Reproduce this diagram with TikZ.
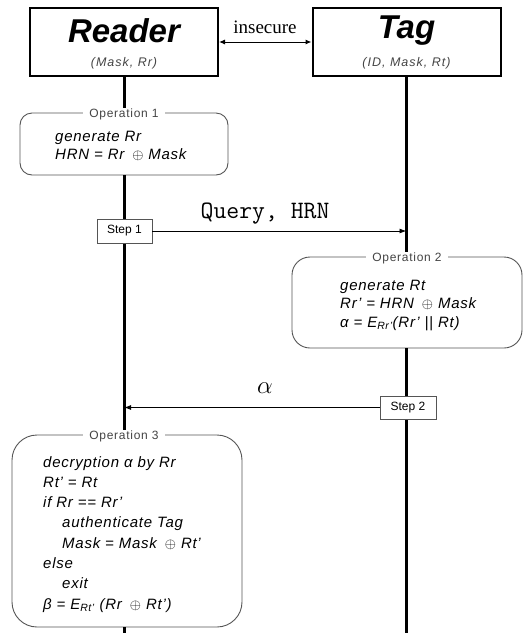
\documentclass[tikz,border=0pt]{standalone}
\usepackage{fontspec}
\setmainfont{Liberation Sans}
\newfontfamily\serifface{Liberation Serif}
\usetikzlibrary{arrows.meta}
\definecolor{framegray}{HTML}{555555}
\definecolor{labelgray}{HTML}{444444}
\tikzset{
  party/.style={draw=black, line width=2pt, minimum width=188pt, minimum height=68pt, inner sep=0pt},
  partyname/.style={font=\fontsize{33}{33}\selectfont\bfseries\itshape, inner sep=0pt},
  partyvars/.style={font=\fontsize{12.5}{13}\selectfont\itshape\addfontfeature{LetterSpace=8}, text=labelgray, inner sep=0pt},
  lifeline/.style={line width=3pt},
  opbox/.style={draw=framegray, line width=0.9pt, inner sep=0pt},
  oplabel/.style={fill=white, text=labelgray, font=\fontsize{12}{12}\selectfont\addfontfeature{LetterSpace=6}, inner xsep=6pt, inner ysep=1pt},
  opline/.style={font=\fontsize{15}{18}\selectfont\itshape\addfontfeature{LetterSpace=5}, inner sep=0pt, anchor=base west},
  stepbox/.style={draw=framegray, fill=white, line width=0.9pt, font=\fontsize{12}{12}\selectfont, inner sep=0pt},
  msg/.style={line width=0.9pt, -{Latex[length=7pt,width=5pt]}},
}
% exclusive-or sign with a little extra room on its left
\newcommand{\xor}{\hspace{0.2em}$\oplus$}
\begin{document}
\begin{tikzpicture}[x=1pt,y=-1pt]
\useasboundingbox (0,0) rectangle (528,633);

% participants
\node[party] (reader) at (124,42) {};
\node[partyname] (readername) at (124,31) {Reader};
\node[partyvars] (readervars) at (124,63) {(Mask, Rr)};
\node[party] (tag) at (406.5,42) {};
\node[partyname] (tagname) at (406.5,31) {Tag};
\node[partyvars] (tagvars) at (406.5,63) {(ID, Mask, Rt)};

% channel between reader and tag
\draw[line width=1pt, {Latex[length=6pt,width=5pt]}-{Latex[length=6pt,width=5pt]}] (reader.east) -- (tag.west);
\node[font=\serifface\fontsize{19}{19}\selectfont, inner sep=0pt] (channel) at (265,27) {insecure};

% operation boxes
\node[opbox, rounded corners=12pt, minimum width=208pt, minimum height=62pt] (op1) at (124,144) {};
\node[opbox, rounded corners=18pt, minimum width=230pt, minimum height=91pt] (op2) at (407,302.5) {};
\node[opbox, rounded corners=25pt, minimum width=230pt, minimum height=192pt] (op3) at (127,531) {};

% lifelines
\coordinate (readerend) at (124,633);
\coordinate (tagend) at (406.5,633);
\draw[lifeline] (reader.south) -- (op1.north);
\draw[lifeline] (op1.south) -- (op1.south |- op3.north);
\draw[lifeline] (op3.south -| readerend) -- (readerend);
\draw[lifeline] (tag.south) -- (tag.south |- op2.north);
\draw[lifeline] (op2.south -| tagend) -- (tagend);

% operation labels, sitting on the top edge of each box
\node[oplabel, yshift=-2pt] (op1label) at (op1.north) {Operation 1};
\node[oplabel, yshift=-2pt] (op2label) at (op2.north) {Operation 2};
\node[oplabel, yshift=-2pt] (op3label) at (op3.north -| readerend) {Operation 3};

% operation 1: reader
\node[opline] (o1a) at (55,141) {generate Rr};
\node[opline] (o1b) at (55,159) {HRN = Rr \xor{} Mask};

% operation 2: tag
\node[opline] (o2a) at (340,290) {generate Rt};
\node[opline] (o2b) at (340,308.5) {Rr’ = HRN \xor{} Mask};
\node[opline] (o2c) at (340,327) {α = E\textsubscript{Rr’}(Rr’ || Rt)};

% operation 3: reader
\node[opline] (o3a) at (43,467) {decryption α by Rr};
\node[opline] (o3b) at (43,487) {Rt’ = Rt};
\node[opline] (o3c) at (43,507) {if Rr == Rr’};
\node[opline] (o3d) at (62,527) {authenticate Tag};
\node[opline] (o3e) at (62,548) {Mask = Mask \xor{} Rt’};
\node[opline] (o3f) at (43,568) {else};
\node[opline] (o3g) at (62,588) {exit};
\node[opline] (o3h) at (43,609) {β = E\textsubscript{Rt’} (Rr \xor{} Rt’)};

% messages
\node[stepbox, minimum width=55pt, minimum height=24pt] (step1) at (124.5,231) {Step 1};
\draw[msg] (step1.east) -- (step1.east -| tagend);
\node[font=\ttfamily\fontsize{25}{25}\selectfont\addfontfeature{LetterSpace=6}, inner sep=0pt] (querylabel) at (265,214) {Query, HRN};

\node[stepbox, minimum width=56pt, minimum height=23pt] (step2) at (408,407.5) {Step 2};
\draw[msg] (step2.west) -- (step2.west -| readerend);
\node[font=\fontsize{24}{24}\selectfont, inner sep=0pt] (alphalabel) at (265,388) {$\alpha$};
\end{tikzpicture}
\end{document}
